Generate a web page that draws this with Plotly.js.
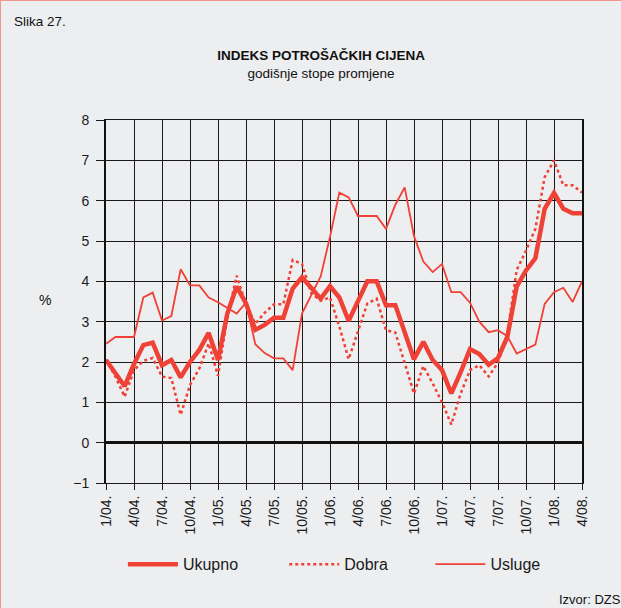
<!DOCTYPE html>
<html>
<head>
<meta charset="utf-8">
<script src="https://cdn.plot.ly/plotly-3.0.1.min.js"></script>
<style>
  html, body { margin: 0; padding: 0; background: #edeef0; }
  #wrap { position: relative; width: 621px; height: 608px; }
  #frame { position: absolute; left: 0; top: 0; width: 621px; height: 608px; box-sizing: border-box;
           border-top: 1px solid #f2958e; border-left: 1px solid #f2958e; pointer-events: none; }
</style>
</head>
<body>
<div id="wrap"><div id="chart"></div><div id="frame"></div></div>
<script>
// Months (categories)
const months = [
  "1/04","2/04","3/04","4/04","5/04","6/04","7/04","8/04","9/04","10/04","11/04","12/04",
  "1/05","2/05","3/05","4/05","5/05","6/05","7/05","8/05","9/05","10/05","11/05","12/05",
  "1/06","2/06","3/06","4/06","5/06","6/06","7/06","8/06","9/06","10/06","11/06","12/06",
  "1/07","2/07","3/07","4/07","5/07","6/07","7/07","8/07","9/07","10/07","11/07","12/07",
  "1/08","2/08","3/08","4/08"
];
// Tick positions and labels
const tickMonths = ["1/04","4/04","7/04","10/04","1/05","4/05","7/05","10/05","1/06","4/06","7/06","10/06","1/07","4/07","7/07","10/07","1/08","4/08"];
const tickLabels = ["1/04.","4/04.","7/04.","10/04.","1/05.","4/05.","7/05.","10/05.","1/06.","4/06.","7/06.","10/06.","1/07.","4/07.","7/07.","10/07.","1/08.","4/08."];

// Series (annual rates of change, %)
const ukupno = [
  2.05, 1.70, 1.40, 1.95, 2.42, 2.48, 1.92, 2.05, 1.62, 2.00, 2.30, 2.72,
  2.05, 3.20, 3.87, 3.45, 2.80, 2.92, 3.10, 3.10, 3.82, 4.10, 3.82, 3.57,
  3.88, 3.60, 3.02, 3.50, 4.00, 4.00, 3.41, 3.41, 2.75, 2.07, 2.50, 2.05,
  1.80, 1.22, 1.75, 2.32, 2.20, 1.93, 2.10, 2.62, 3.87, 4.27, 4.57, 5.80,
  6.19, 5.80, 5.69, 5.69
];
const dobra = [
  2.06, 1.64, 1.14, 1.80, 2.03, 2.10, 1.64, 1.60, 0.69, 1.43, 1.84, 2.46,
  1.66, 3.10, 4.14, 3.42, 2.95, 3.22, 3.43, 3.43, 4.53, 4.43, 3.70, 3.52,
  3.60, 2.88, 2.07, 2.75, 3.45, 3.57, 2.79, 2.73, 1.97, 1.22, 1.90, 1.47,
  1.00, 0.45, 1.22, 1.80, 1.92, 1.64, 1.99, 2.70, 4.28, 4.76, 5.30, 6.58,
  7.00, 6.38, 6.38, 6.20
];
const usluge = [
  2.45, 2.62, 2.62, 2.62, 3.60, 3.72, 3.03, 3.14, 4.30, 3.90, 3.90, 3.60,
  3.48, 3.34, 3.20, 3.47, 2.44, 2.22, 2.09, 2.09, 1.80, 3.20, 3.66, 4.12,
  5.10, 6.20, 6.08, 5.62, 5.62, 5.62, 5.30, 5.90, 6.33, 5.12, 4.49, 4.23,
  4.43, 3.73, 3.73, 3.47, 3.00, 2.74, 2.79, 2.64, 2.21, 2.32, 2.43, 3.44,
  3.73, 3.84, 3.49, 4.00
];

const RED = "#ef4136";
const FONT = "Liberation Sans, Arial, Helvetica, sans-serif";

const traces = [
  { x: months, y: ukupno, type: "scatter", mode: "lines", name: "Ukupno",
    line: { color: RED, width: 4.5 }, legend: "legend" },
  { x: months, y: dobra, type: "scatter", mode: "lines", name: "Dobra",
    line: { color: RED, width: 2.5, dash: "dot" }, legend: "legend2" },
  { x: months, y: usluge, type: "scatter", mode: "lines", name: "Usluge",
    line: { color: RED, width: 1.8 }, legend: "legend3" }
];

const legendBase = { orientation: "h", xanchor: "left", yanchor: "middle", y: -0.224,
  itemwidth: 50,
  bgcolor: "rgba(0,0,0,0)", borderwidth: 0, font: { family: FONT, size: 16, color: "#1a1a1a" } };

const layout = {
  width: 621, height: 608,
  margin: { l: 106, r: 39, t: 120, b: 125, pad: 0 },
  paper_bgcolor: "#edeef0",
  plot_bgcolor: "#edeef0",
  font: { family: FONT, color: "#1a1a1a", size: 14 },
  title: {
    text: "<b>INDEKS POTROŠAČKIH CIJENA</b><br>godišnje stope promjene",
    font: { family: FONT, size: 13.5, color: "#111" },
    x: 0.517, xanchor: "center", xref: "container",
    y: 1 - 60 / 608, yanchor: "top", yref: "container"
  },
  xaxis: {
    type: "category",
    categoryorder: "array", categoryarray: months,
    range: [0, months.length - 1],
    tickmode: "array", tickvals: tickMonths, ticktext: tickLabels,
    tickangle: -90,
    tickfont: { family: FONT, size: 14, color: "#1a1a1a" },
    ticks: "outside", ticklen: 6, tickcolor: "#1a1a1a", tickwidth: 1,
    showgrid: true, gridcolor: "#1a1a1a", gridwidth: 1,
    showline: true, linecolor: "#1a1a1a", linewidth: 1, mirror: true,
    zeroline: false, fixedrange: true
  },
  yaxis: {
    range: [-1, 8], dtick: 1, tick0: 0,
    tickfont: { family: FONT, size: 14, color: "#1a1a1a" },
    ticks: "outside", ticklen: 8, tickcolor: "#1a1a1a", tickwidth: 1,
    ticklabelstandoff: 4,
    showgrid: true, gridcolor: "#1a1a1a", gridwidth: 1,
    zeroline: true, zerolinecolor: "#111", zerolinewidth: 2.5,
    showline: true, linecolor: "#111", linewidth: 2, mirror: true,
    fixedrange: true
  },
  showlegend: true,
  legend: Object.assign({}, legendBase, { x: 0.0355 }),
  legend2: Object.assign({}, legendBase, { x: 0.3745 }),
  legend3: Object.assign({}, legendBase, { x: 0.6815 }),
  annotations: [
    { text: "Slika 27.", xref: "paper", yref: "paper", x: -0.197, y: 1 + 98 / 363,
      xanchor: "left", yanchor: "middle", showarrow: false,
      font: { family: FONT, size: 13.5, color: "#111" } },
    { text: "%", xref: "paper", yref: "paper", x: (45 - 106) / 476, y: (482.7 - 300) / 363,
      xanchor: "center", yanchor: "middle", showarrow: false,
      font: { family: FONT, size: 14, color: "#111" } },
    { text: "Izvor: DZS", xref: "paper", yref: "paper", x: (557 - 106) / 476, y: -(599 - 482.7) / 363,
      xanchor: "left", yanchor: "middle", showarrow: false,
      font: { family: FONT, size: 13, color: "#111" } }
  ]
};

Plotly.newPlot("chart", traces, layout, { staticPlot: true, displayModeBar: false });
</script>
</body>
</html>
